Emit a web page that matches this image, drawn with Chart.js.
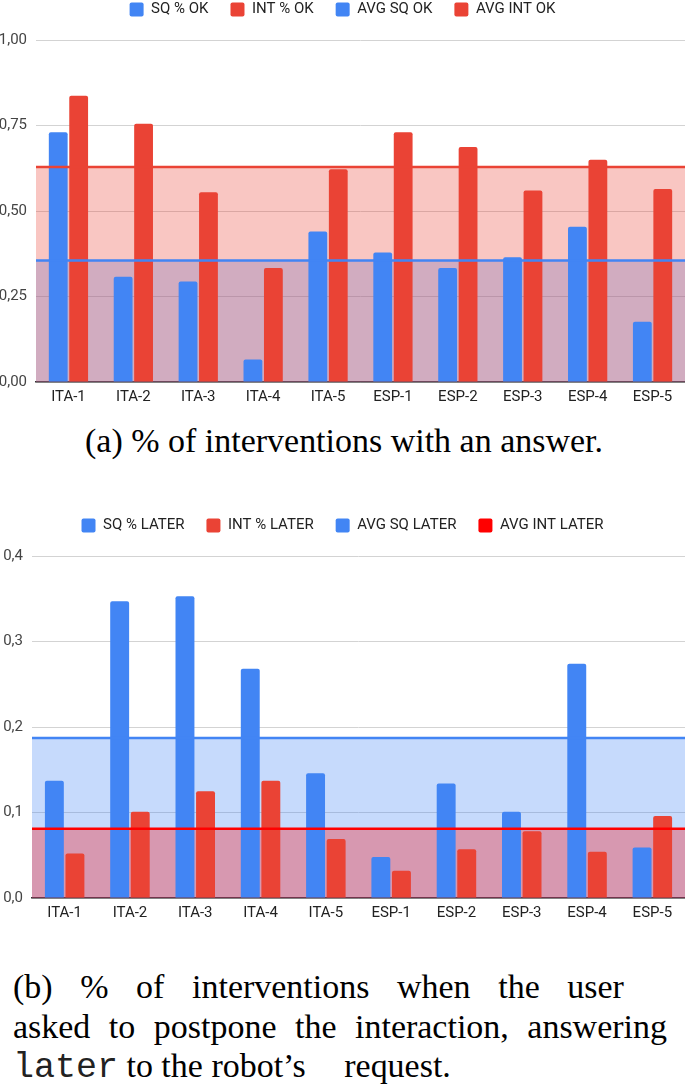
<!DOCTYPE html>
<html><head><meta charset="utf-8">
<script src="https://cdn.jsdelivr.net/npm/chart.js@4.4.1/dist/chart.umd.min.js"></script>
<style>
html,body{margin:0;padding:0;background:#fff;}
body{width:685px;height:1089px;overflow:hidden;position:relative;}
.wrap{position:absolute;left:0;width:685px;height:428px;}
#w1{top:-20px;}
#w2{top:496px;}
.cap{position:absolute;left:0;font-family:"Liberation Serif","Times New Roman",serif;font-size:34px;line-height:34px;color:#000;white-space:nowrap;transform-origin:0 0;}
.mono{font-family:"Liberation Mono","DejaVu Sans Mono",monospace;font-size:35px;color:#222;}
.just{display:flex;justify-content:space-between;}
</style></head>
<body>
<div class="wrap" id="w1"><canvas id="c1" width="685" height="428"></canvas></div>
<div class="wrap" id="w2"><canvas id="c2" width="685" height="428"></canvas></div>
<div class="cap" id="capA">(a) % of interventions with an answer.</div>
<div class="cap just" id="capB1"><span>(b)</span><span>%</span><span>of</span><span>interventions</span><span>when</span><span>the</span><span>user</span></div>
<div class="cap just" id="capB2"><span>asked</span><span>to</span><span>postpone</span><span>the</span><span>interaction,</span><span>answering</span></div>
<div class="cap" id="capB3"><span class="mono">later</span> to the robot’s <span style="margin-left:30px">request.</span></div>
<script>
const categories = ['ITA-1','ITA-2','ITA-3','ITA-4','ITA-5','ESP-1','ESP-2','ESP-3','ESP-4','ESP-5'];

// Chart (a)
const legendOk = ['SQ % OK','INT % OK','AVG SQ OK','AVG INT OK'];
const sqOk  = [0.730,0.308,0.294,0.066,0.440,0.379,0.333,0.365,0.454,0.176];
const intOk = [0.837,0.755,0.555,0.333,0.622,0.730,0.687,0.560,0.650,0.564];
const avgSqOk  = [0.355,0.355,0.355,0.355,0.355,0.355,0.355,0.355,0.355,0.355];
const avgIntOk = [0.629,0.629,0.629,0.629,0.629,0.629,0.629,0.629,0.629,0.629];
const yTickLabelsOk = ['0,00','0,25','0,50','0,75','1,00'];

// Chart (b)
const legendLater = ['SQ % LATER','INT % LATER','AVG SQ LATER','AVG INT LATER'];
const sqLater  = [0.137,0.347,0.353,0.268,0.146,0.048,0.134,0.101,0.274,0.059];
const intLater = [0.052,0.101,0.125,0.137,0.069,0.032,0.057,0.078,0.054,0.096];
const avgSqLater  = [0.187,0.187,0.187,0.187,0.187,0.187,0.187,0.187,0.187,0.187];
const avgIntLater = [0.081,0.081,0.081,0.081,0.081,0.081,0.081,0.081,0.081,0.081];
const yTickLabelsLater = ['0,0','0,1','0,2','0,3','0,4'];

Chart.defaults.font.family = 'Roboto';

// legend block height tweak (space between legend and plot)
const legendGrow = {
  id: 'legendGrow',
  beforeLayout(chart) {
    const lg = chart.legend;
    if (lg && !lg.__patched) {
      const f = lg.fit.bind(lg);
      lg.fit = function () { f(); this.height = this.height + 13; };
      lg.__patched = true;
    }
  }
};

// average lines span the full plot width (as in the spreadsheet chart)
const spanAverages = {
  id: 'spanAverages',
  afterDatasetsUpdate(chart) {
    const area = chart.chartArea;
    chart.data.datasets.forEach((ds, i) => {
      if (ds.type === 'line') {
        const pts = chart.getDatasetMeta(i).data;
        if (pts.length) { pts[0].x = area.left; pts[pts.length - 1].x = area.right; }
      }
    });
  }
};

function makeChart(id, names, barA, barB, avgA, avgB, avgBColor, avgBFill, yMax, tickLabels, yWidth) {
  return new Chart(document.getElementById(id), {
    type: 'bar',
    data: {
      labels: categories,
      datasets: [
        {label:names[0], data:barA, backgroundColor:'#4285F4', legendColor:'#4285F4', order:10,
         categoryPercentage:0.63, barPercentage:0.92, borderRadius:{topLeft:2, topRight:2, bottomLeft:0, bottomRight:0}, borderSkipped:false},
        {label:names[1], data:barB, backgroundColor:'#EA4335', legendColor:'#EA4335', order:11,
         categoryPercentage:0.63, barPercentage:0.92, borderRadius:{topLeft:2, topRight:2, bottomLeft:0, bottomRight:0}, borderSkipped:false},
        {type:'line', label:names[2], data:avgA, borderColor:'#4285F4', backgroundColor:'rgba(66,133,244,0.3)',
         legendColor:'#4285F4', fill:'origin', pointRadius:0, borderWidth:2.5, order:2, tension:0},
        {type:'line', label:names[3], data:avgB, borderColor:avgBColor, backgroundColor:avgBFill,
         legendColor:avgBColor, fill:'origin', pointRadius:0, borderWidth:2.5, order:1, tension:0}
      ]
    },
    options: {
      responsive:false,
      animation:false,
      events:[],
      layout:{padding:0},
      scales:{
        x:{type:'category', offset:true,
           grid:{display:false, drawTicks:false},
           border:{display:true, color:'#333', width:1.5},
           ticks:{font:{size:15}, color:'#222', padding:6, maxRotation:0, autoSkip:false},
           afterFit:s=>{s.height=26;}},
        y:{min:0, max:yMax, ticks:{stepSize:yMax/4, font:{size:15}, color:'#444', padding:9,
             callback:(v,i)=>tickLabels[i]},
           grid:{color:'#d3d3d3', lineWidth:1, drawTicks:false},
           border:{display:false},
           afterFit:s=>{s.width=yWidth;}}
      },
      plugins:{
        tooltip:{enabled:false},
        filler:{drawTime:'beforeDatasetsDraw'},
        legend:{position:'top', align:'center',
          labels:{boxWidth:14, boxHeight:14, padding:22, font:{size:15}, color:'#222', useBorderRadius:true, borderRadius:2,
            generateLabels(chart){
              const items = Chart.defaults.plugins.legend.labels.generateLabels(chart);
              items.sort((a,b)=>a.datasetIndex-b.datasetIndex);
              items.forEach(it=>{
                const ds = chart.data.datasets[it.datasetIndex];
                it.fillStyle = ds.legendColor; it.strokeStyle = ds.legendColor; it.lineWidth = 0;
                it.lineDash = []; it.borderRadius = 2;
              });
              return items;
            }}}
      }
    },
    plugins:[legendGrow, spanAverages]
  });
}

makeChart('c1', legendOk, sqOk, intOk, avgSqOk, avgIntOk, '#EA4335', 'rgba(234,67,53,0.3)', 1.0, yTickLabelsOk, 36);
makeChart('c2', legendLater, sqLater, intLater, avgSqLater, avgIntLater, '#FF0000', 'rgba(255,0,0,0.3)', 0.4, yTickLabelsLater, 32);

// captions
function placeCaptions(){
  const fs = 34, asc = 0.8375*fs;
  const a = document.getElementById('capA');
  const wA = a.getBoundingClientRect().width;
  const s = 518 / wA;
  a.style.left = '85px';
  a.style.top = (452 - asc) + 'px';
  a.style.transform = 'scaleX(' + s + ')';
  const b1 = document.getElementById('capB1');
  b1.style.width = (611 / s) + 'px'; b1.style.left = '13px'; b1.style.top = (998 - asc) + 'px';
  b1.style.transform = 'scaleX(' + s + ')';
  const b2 = document.getElementById('capB2');
  b2.style.width = (654 / s) + 'px'; b2.style.left = '13px'; b2.style.top = (1038 - asc) + 'px';
  b2.style.transform = 'scaleX(' + s + ')';
  const b3 = document.getElementById('capB3');
  b3.style.left = '13px'; b3.style.top = (1077 - asc) + 'px';
  b3.style.transform = 'scaleX(' + s + ')';
}
placeCaptions();
</script>
</body></html>
